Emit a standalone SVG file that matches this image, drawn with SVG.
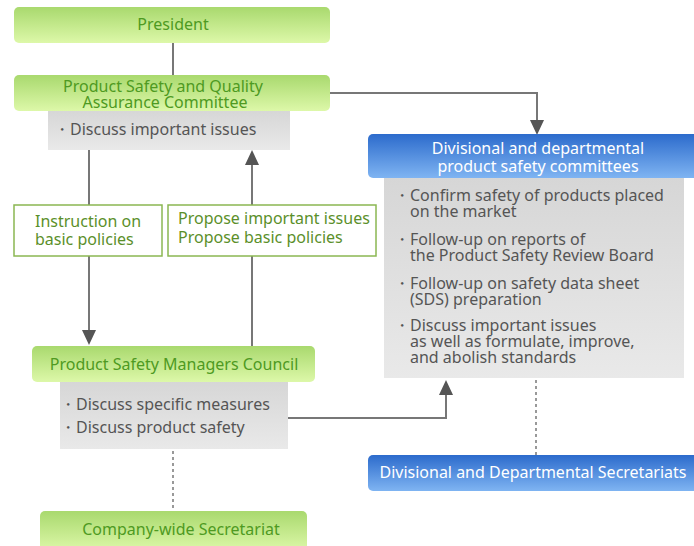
<svg xmlns="http://www.w3.org/2000/svg" width="694" height="546" viewBox="0 0 694 546">
<defs>
<linearGradient id="gGreen" x1="0" y1="0" x2="0" y2="1">
<stop offset="0" stop-color="#a9d96e"/>
<stop offset="1" stop-color="#ddf8a9"/>
</linearGradient>
<linearGradient id="gBlue" x1="0" y1="0" x2="0" y2="1">
<stop offset="0" stop-color="#2c6bcc"/>
<stop offset="1" stop-color="#7fb4f2"/>
</linearGradient>
<linearGradient id="gGray" x1="0" y1="0" x2="0" y2="1">
<stop offset="0" stop-color="#d6d6d6"/>
<stop offset="1" stop-color="#e9e9e9"/>
</linearGradient>
<style>
text{font-family:"Noto Sans","Open Sans","DejaVu Sans",sans-serif;font-size:16px}
.gbox{fill:url(#gGreen)}
.bbox{fill:url(#gBlue)}
.gray{fill:url(#gGray)}
.gt{fill:#4e9a22;text-anchor:middle}
.wt{fill:#ffffff;text-anchor:middle}
.dt{fill:#555555}
.lbl{fill:#ffffff;stroke:#8bb752;stroke-width:1.5}
.lt{fill:#5b8f2a}
.ln{fill:none;stroke:#777;stroke-width:2}
.dot{fill:none;stroke:#999;stroke-width:2;stroke-dasharray:3 3}
.ah{fill:#555}
</style>
</defs>

<g id="connectors">
<line class="ln" x1="173" y1="43" x2="173" y2="75"/>
<polyline class="ln" points="330,93 537,93 537,122"/>
<polygon class="ah" points="530,120 544,120 537,135"/>
<line class="ln" x1="89" y1="150" x2="89" y2="332"/>
<polygon class="ah" points="82,330 96,330 89,345"/>
<line class="ln" x1="252" y1="346" x2="252" y2="163"/>
<polygon class="ah" points="245,165 259,165 252,150"/>
<polyline class="ln" points="288,418 446,418 446,392"/>
<polygon class="ah" points="439,395 453,395 446,380"/>
<line class="dot" x1="173" y1="451" x2="173" y2="510"/>
<line class="dot" x1="536" y1="380" x2="536" y2="455"/>
</g>

<g id="president">
<rect class="gbox" x="14" y="7" width="316" height="36" rx="5"/>
<text class="gt" x="173" y="30">President</text>
</g>

<g id="psqac">
<rect class="gray" x="48" y="110" width="242" height="40"/>
<rect class="gbox" x="14" y="75" width="316" height="36" rx="5"/>
<text class="gt" x="163" y="92">Product Safety and Quality</text>
<text class="gt" x="165" y="108">Assurance Committee</text>
<text class="dt" x="54" y="135">・Discuss important issues</text>
</g>

<g id="label-instruction">
<rect class="lbl" x="14" y="205" width="148" height="51"/>
<text class="lt" x="35" y="227">Instruction on</text>
<text class="lt" x="35" y="245">basic policies</text>
</g>

<g id="label-propose">
<rect class="lbl" x="168" y="205" width="208" height="51"/>
<text class="lt" x="178" y="224">Propose important issues</text>
<text class="lt" x="178" y="243">Propose basic policies</text>
</g>

<g id="divisional-committees">
<rect class="gray" x="384" y="177" width="300" height="201"/>
<rect class="bbox" x="368" y="134" width="330" height="44" rx="5"/>
<text class="wt" x="538" y="154">Divisional and departmental</text>
<text class="wt" x="538" y="172">product safety committees</text>
<text class="dt" x="394" y="201">・Confirm safety of products placed</text>
<text class="dt" x="410" y="217">on the market</text>
<text class="dt" x="394" y="245">・Follow-up on reports of</text>
<text class="dt" x="410" y="261">the Product Safety Review Board</text>
<text class="dt" x="394" y="289">・Follow-up on safety data sheet</text>
<text class="dt" x="410" y="305">(SDS) preparation</text>
<text class="dt" x="394" y="331">・Discuss important issues</text>
<text class="dt" x="410" y="347">as well as formulate, improve,</text>
<text class="dt" x="410" y="363">and abolish standards</text>
</g>

<g id="psmc">
<rect class="gray" x="60" y="381" width="228" height="68"/>
<rect class="gbox" x="32" y="346" width="283" height="36" rx="5"/>
<text class="gt" x="174" y="370">Product Safety Managers Council</text>
<text class="dt" x="60" y="410">・Discuss specific measures</text>
<text class="dt" x="60" y="433">・Discuss product safety</text>
</g>

<g id="company-secretariat">
<rect class="gbox" x="40" y="511" width="267" height="40" rx="5"/>
<text class="gt" x="181" y="535">Company-wide Secretariat</text>
</g>

<g id="divisional-secretariats">
<rect class="bbox" x="368" y="455" width="330" height="36" rx="5"/>
<text class="wt" x="533" y="478">Divisional and Departmental Secretariats</text>
</g>
</svg>
